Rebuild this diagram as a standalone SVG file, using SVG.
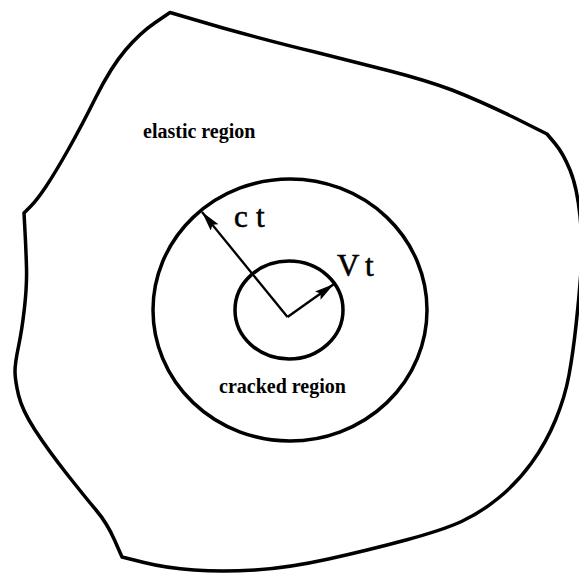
<svg xmlns="http://www.w3.org/2000/svg" width="579" height="573" viewBox="0 0 579 573">
<style>
.ln{fill:none;stroke:#000;stroke-width:3.5;stroke-linejoin:round;stroke-linecap:round}
.ar{fill:none;stroke:#000;stroke-width:2.3}
.lbl{font-family:"Liberation Serif","Times New Roman",serif;font-size:20px;font-weight:bold;fill:#000}
.sym{font-family:"Liberation Serif","Times New Roman",serif;font-size:31px;fill:#000;stroke:#000;stroke-width:0.6}
</style>
<defs>
<marker id="ah" markerUnits="userSpaceOnUse" markerWidth="22" markerHeight="12" refX="20" refY="5" orient="auto">
<path d="M0,0 L20,5 L0,10 L3.5,5 z" fill="#000"/>
</marker>
</defs>
<rect width="579" height="573" fill="#fff"/>
<g id="boundary">
<path class="ln" d="M170,12.5 L223,28 Q277,43 315,52 Q354,62 390,71 Q425,80 452,90 Q480,101 513,117 L547,134 L555,143.5 Q563,153 570,170 Q577,187 580,216 Q583,245 581,271.5 Q579,298 576,325.5 Q573,353 569,375 Q565,397 555.5,420 Q546,443 531.5,463 Q517,483 498.5,498 Q480,513 461.5,521.5 Q443,530 406,540 Q369,550 328.5,559 Q288,568 255,570 Q222,572 194,570 Q166,568 144,562.5 L122,557 L114.5,540 Q107,523 96,510 Q85,497 66.5,473.5 Q48,450 35,430 Q22,410 18.5,395 Q15,380 15,371.5 Q15,363 18.5,346.5 Q22,330 24.5,307.5 Q27,285 26.5,267.5 Q26,250 25,231.5 L24,213 L30.5,206.5 Q37,200 46,186.5 Q55,173 68,150 Q81,127 96,97 Q111,67 125.5,50 Q140,33 155,22.75 Z"/>
</g>
<g id="crack-front">
<ellipse class="ln" cx="290" cy="310" rx="137" ry="131"/>
</g>
<g id="inner-front">
<ellipse class="ln" cx="289" cy="310" rx="54" ry="49"/>
</g>
<g id="connectors">
<line class="ar" x1="287.5" y1="317" x2="202" y2="212" marker-end="url(#ah)"/>
<line class="ar" x1="287.5" y1="317" x2="334" y2="284" marker-end="url(#ah)"/>
</g>
<g id="labels">
<text class="lbl" x="143" y="138">elastic region</text>
<text class="lbl" x="219" y="393">cracked region</text>
<text class="sym" x="234" y="227">c<tspan x="256">t</tspan></text>
<text class="sym" x="337" y="276">V<tspan x="365">t</tspan></text>
</g>
</svg>
